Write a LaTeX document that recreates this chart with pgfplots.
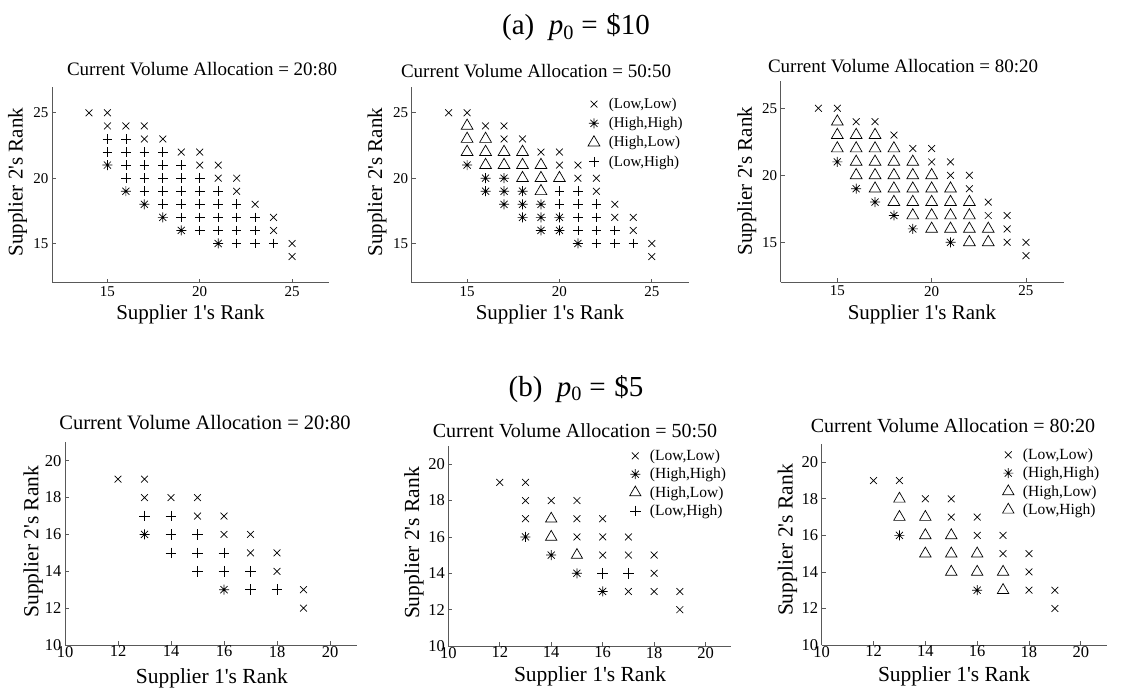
\documentclass[border=0pt]{standalone}
\usepackage{fontspec}
\setmainfont{Liberation Serif}[Ligatures=TeXOff]
\usepackage{pgfplots}
\pgfplotsset{compat=1.18}

% MATLAB-style asterisk: a plus and a cross on top of each other
\pgfdeclareplotmark{mstar}{%
  \pgfpathmoveto{\pgfqpoint{-\pgfplotmarksize}{0pt}}%
  \pgfpathlineto{\pgfqpoint{\pgfplotmarksize}{0pt}}%
  \pgfpathmoveto{\pgfqpoint{0pt}{-\pgfplotmarksize}}%
  \pgfpathlineto{\pgfqpoint{0pt}{\pgfplotmarksize}}%
  \pgfpathmoveto{\pgfqpoint{-.7071\pgfplotmarksize}{-.7071\pgfplotmarksize}}%
  \pgfpathlineto{\pgfqpoint{.7071\pgfplotmarksize}{.7071\pgfplotmarksize}}%
  \pgfpathmoveto{\pgfqpoint{-.7071\pgfplotmarksize}{.7071\pgfplotmarksize}}%
  \pgfpathlineto{\pgfqpoint{.7071\pgfplotmarksize}{-.7071\pgfplotmarksize}}%
  \pgfusepathqstroke}

\newcommand\fs[1]{\fontsize{#1}{#1}\selectfont}

\pgfplotsset{
  rankaxis/.style={
    scale only axis, anchor=south west, clip=false,
    axis x line=bottom, axis y line=left,
    axis line style={-, black!65, line width=0.9pt},
    tick align=inside, major tick length=4pt,
    tick style={black!65, line width=0.8pt},
    /pgf/number format/assume math mode=true,
    legend image code/.code={\draw[mark repeat=2,mark phase=2,##1] plot coordinates {(0pt,0pt) (6pt,0pt) (12pt,0pt)};},
  },
  toprow/.style={rankaxis,
    xmin=12, xmax=27, ymin=12, ymax=27,
    xtick={15,20,25}, ytick={15,20,25},
    ticklabel style={font=\fs{15}},
    legend style={draw=none, fill=none, inner sep=0pt, outer sep=0pt,
      anchor=north west, font=\fs{15}, row sep=5.3pt,
      cells={anchor=west}, nodes={inner sep=1pt},
      /tikz/every odd column/.append style={column sep=8pt}},
  },
  botrow/.style={rankaxis,
    xmin=10, xmax=21, ymin=10, ymax=21,
    xtick={10,12,...,20}, ytick={10,12,...,20},
    ticklabel style={font=\fs{16.5}},
    xticklabel style={yshift=2.5pt},
    legend style={draw=none, fill=none, inner sep=0pt, outer sep=0pt,
      anchor=north west, font=\fs{15.5}, row sep=4.1pt,
      cells={anchor=west}, nodes={inner sep=1pt},
      /tikz/every odd column/.append style={column sep=8pt}},
  },
  LL/.style={only marks, black, line width=0.7pt, mark=x, mark size=4.8pt},
  HH/.style={only marks, black, line width=0.7pt, mark=mstar, mark size=5pt},
  HL/.style={only marks, black, line width=0.7pt, mark=triangle, mark size=6.8pt},
  LH/.style={only marks, black, line width=0.7pt, mark=+, mark size=4.8pt},
}

\begin{document}
\begin{tikzpicture}
\useasboundingbox (0pt,0pt) rectangle (1123pt,689pt);

% ---------- (a) p0 = $10 ----------
\begin{axis}[toprow, at={(52pt,406.3pt)}, width=277pt, height=196pt]
\addplot[LL] coordinates {(14,25)(15,25)(15,24)(16,24)(17,24)(17,23)(18,23)(19,22)(20,22)(20,21)(21,21)(21,20)(22,20)(22,19)(23,18)(24,17)(24,16)(25,15)(25,14)};
\addplot[HH] coordinates {(15,21)(16,19)(17,18)(18,17)(19,16)(21,15)};
\addplot[LH] coordinates {(15,23)(16,23)(15,22)(16,22)(17,22)(18,22)(16,21)(17,21)(18,21)(19,21)(16,20)(17,20)(18,20)(19,20)(20,20)(17,19)(18,19)(19,19)(20,19)(21,19)(18,18)(19,18)(20,18)(21,18)(22,18)(19,17)(20,17)(21,17)(22,17)(23,17)(20,16)(21,16)(22,16)(23,16)(22,15)(23,15)(24,15)};
\end{axis}

\begin{axis}[toprow, at={(411.7pt,406.3pt)}, width=277pt, height=196pt,
  legend style={at={(axis cs:21.55,26.2)}}]
\addplot[LL] coordinates {(14,25)(15,25)(16,24)(17,24)(17,23)(18,23)(19,22)(20,22)(20,21)(21,21)(21,20)(22,20)(22,19)(23,18)(23,17)(24,17)(24,16)(25,15)(25,14)};
\addplot[HH] coordinates {(15,21)(16,20)(17,20)(16,19)(17,19)(18,19)(17,18)(18,18)(19,18)(18,17)(19,17)(20,17)(19,16)(20,16)(21,15)};
\addplot[HL] coordinates {(15,24)(15,23)(16,23)(15,22)(16,22)(17,22)(18,22)(16,21)(17,21)(18,21)(19,21)(18,20)(19,20)(20,20)(19,19)};
\addplot[LH] coordinates {(20,19)(21,19)(20,18)(21,18)(22,18)(21,17)(22,17)(21,16)(22,16)(23,16)(22,15)(23,15)(24,15)};
\legend{(Low{,}Low),(High{,}High),(High{,}Low),(Low{,}High)}
\end{axis}

\begin{axis}[toprow, at={(780.7pt,406.5pt)}, width=283pt, height=201pt]
\addplot[LL] coordinates {(14,25)(15,25)(16,24)(17,24)(18,23)(19,22)(20,22)(20,21)(21,21)(21,20)(22,20)(22,19)(23,18)(23,17)(24,17)(24,16)(24,15)(25,15)(25,14)};
\addplot[HH] coordinates {(15,21)(16,19)(17,18)(18,17)(19,16)(21,15)};
\addplot[HL] coordinates {(15,24)(15,23)(16,23)(17,23)(15,22)(16,22)(17,22)(18,22)(16,21)(17,21)(18,21)(19,21)(16,20)(17,20)(18,20)(19,20)(20,20)(17,19)(18,19)(19,19)(20,19)(21,19)(18,18)(19,18)(20,18)(21,18)(22,18)(19,17)(20,17)(21,17)(22,17)(20,16)(21,16)(22,16)(23,16)(22,15)(23,15)};
\end{axis}

% ---------- (b) p0 = $5 ----------
\begin{axis}[botrow, at={(65pt,44pt)}, width=291.5pt, height=202.7pt]
\addplot[LL] coordinates {(12,19)(13,19)(13,18)(14,18)(15,18)(15,17)(16,17)(16,16)(17,16)(17,15)(18,15)(18,14)(19,13)(19,12)};
\addplot[HH] coordinates {(13,16)(16,13)};
\addplot[LH, mark size=5.3pt] coordinates {(13,17)(14,17)(14,16)(15,16)(14,15)(15,15)(16,15)(15,14)(16,14)(17,14)(17,13)(18,13)};
\end{axis}

\begin{axis}[botrow, at={(448.3pt,43pt)}, width=283pt, height=200pt,
  legend style={at={(axis cs:17.05,20.85)}}]
\addplot[LL] coordinates {(12,19)(13,19)(13,18)(14,18)(15,18)(13,17)(15,17)(16,17)(15,16)(16,16)(17,16)(16,15)(17,15)(18,15)(18,14)(17,13)(18,13)(19,13)(19,12)};
\addplot[HH] coordinates {(13,16)(14,15)(15,14)(16,13)};
\addplot[HL, mark size=6.5pt] coordinates {(14,17)(14,16)(15,15)};
\addplot[LH, mark size=5.3pt] coordinates {(16,14)(17,14)};
\legend{(Low{,}Low),(High{,}High),(High{,}Low),(Low{,}High)}
\end{axis}

\begin{axis}[botrow, at={(821.7pt,44pt)}, width=285pt, height=201pt,
  legend style={at={(axis cs:16.98,20.8)}}]
\addplot[LL] coordinates {(12,19)(13,19)(14,18)(15,18)(15,17)(16,17)(16,16)(17,16)(17,15)(18,15)(18,14)(18,13)(19,13)(19,12)};
\addplot[HH] coordinates {(13,16)(16,13)};
\addplot[HL, mark size=6.6pt] coordinates {(13,18)(13,17)(14,17)(14,16)(15,16)(14,15)(15,15)(16,15)(15,14)(16,14)(17,14)(17,13)};
\addlegendimage{HL, mark size=6.6pt}
\legend{(Low{,}Low),(High{,}High),(High{,}Low),(Low{,}High)}
\end{axis}

% ---------- text ----------
\node[font=\fs{29}, anchor=base] at (576pt,654pt) {(a)~~\textit{p}\textsubscript{0}\hspace{0.25em}=\hspace{0.3em}\$10};
\node[font=\fs{29}, anchor=base] at (576pt,293pt) {(b)~~\textit{p}\textsubscript{0}\hspace{0.25em}=\hspace{0.3em}\$5};

\node[font=\fs{19}, anchor=base] at (202pt,613.7pt) {Current Volume Allocation = 20:80};
\node[font=\fs{19}, anchor=base] at (536pt,611.4pt) {Current Volume Allocation = 50:50};
\node[font=\fs{19}, anchor=base] at (903pt,616pt) {Current Volume Allocation = 80:20};
\node[font=\fs{20.5}, anchor=base] at (205pt,260pt) {Current Volume Allocation = 20:80};
\node[font=\fs{20}, anchor=base] at (575pt,252pt) {Current Volume Allocation = 50:50};
\node[font=\fs{20}, anchor=base] at (953pt,256.5pt) {Current Volume Allocation = 80:20};

\node[font=\fs{21}, anchor=base] at (190.5pt,370pt) {Supplier 1's Rank};
\node[font=\fs{21}, anchor=base] at (550pt,370pt) {Supplier 1's Rank};
\node[font=\fs{21}, anchor=base] at (922pt,370pt) {Supplier 1's Rank};
\node[font=\fs{21.5}, anchor=base] at (211.8pt,6pt) {Supplier 1's Rank};
\node[font=\fs{21.5}, anchor=base] at (590pt,8pt) {Supplier 1's Rank};
\node[font=\fs{21.5}, anchor=base] at (954pt,8pt) {Supplier 1's Rank};

\node[font=\fs{21}, rotate=90] at (17.5pt,507pt) {Supplier 2's Rank};
\node[font=\fs{21}, rotate=90] at (377pt,507pt) {Supplier 2's Rank};
\node[font=\fs{21}, rotate=90] at (746.7pt,508pt) {Supplier 2's Rank};
\node[font=\fs{21.5}, rotate=90] at (33.3pt,147.3pt) {Supplier 2's Rank};
\node[font=\fs{21.5}, rotate=90] at (414pt,146pt) {Supplier 2's Rank};
\node[font=\fs{21.5}, rotate=90] at (787.5pt,149pt) {Supplier 2's Rank};
\end{tikzpicture}
\end{document}
